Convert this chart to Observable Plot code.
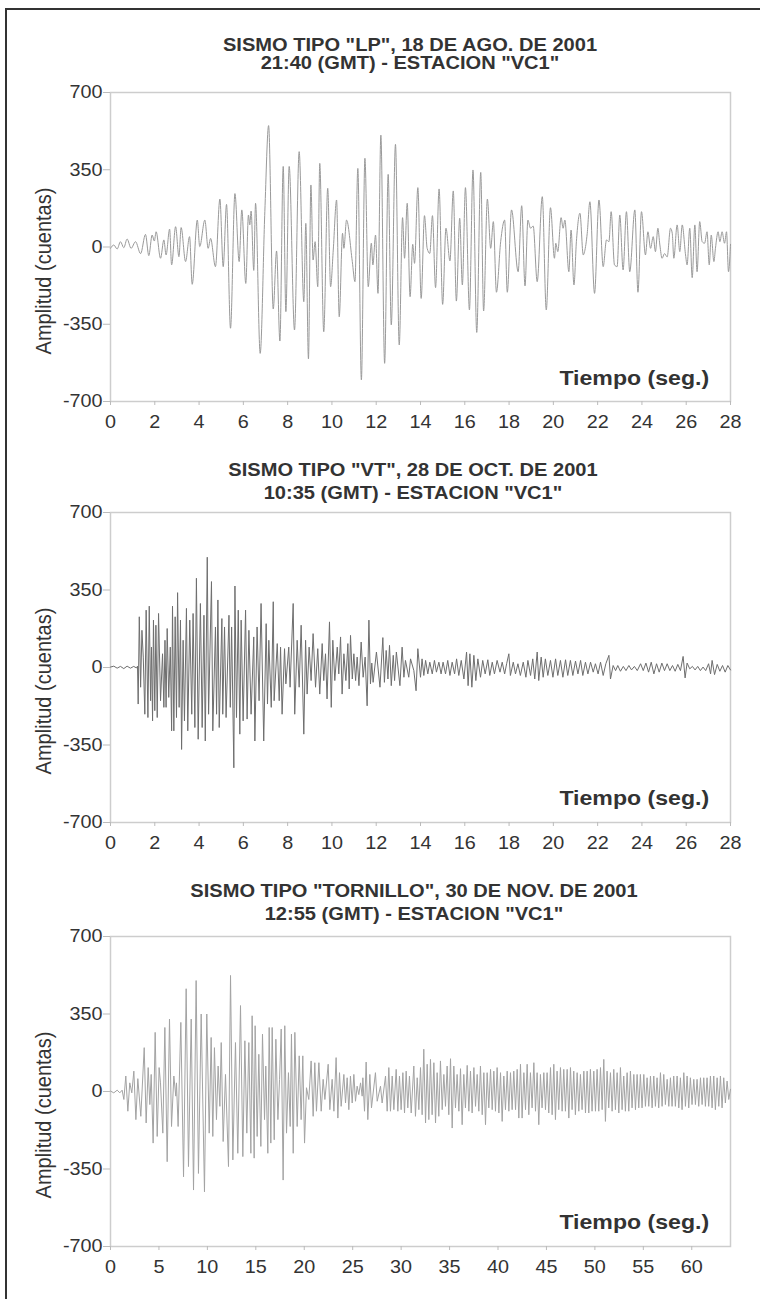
<!DOCTYPE html>
<html><head><meta charset="utf-8">
<script src="https://cdn.jsdelivr.net/npm/d3@7"></script>
<script src="https://cdn.jsdelivr.net/npm/@observablehq/plot@0.6"></script>
<style>
html,body{margin:0;padding:0;background:#fff;}
#page{position:relative;width:760px;height:1299px;overflow:hidden;font-family:"Liberation Sans",Arial,Helvetica,sans-serif;color:#333;background:#fff;}
#border{position:absolute;left:5px;top:8px;right:-5px;bottom:-5px;border-left:2px solid #333;border-top:2px solid #333;}
.t{position:absolute;white-space:nowrap;font-weight:bold;font-size:18.5px;line-height:1;transform:translateX(-50%) scaleX(1.085);}
.yl{position:absolute;left:43px;white-space:nowrap;font-size:20px;line-height:1;transform:translate(-50%,-50%) rotate(-90deg) scaleY(1.12);}
.xl{position:absolute;right:51px;white-space:nowrap;font-weight:bold;font-size:21px;line-height:1;transform-origin:right center;transform:scaleX(1.1);}
.chart{position:absolute;left:0;}
</style>
</head><body>
<div id="page"><div id="border"></div></div>
<script>
// ---- data ----
const yTicks = [-700, -350, 0, 350, 700];
const xTicksShort = [0,2,4,6,8,10,12,14,16,18,20,22,24,26,28];
const xTicksLong = [0,5,10,15,20,25,30,35,40,45,50,55,60];
const titleLines1 = ['SISMO TIPO "LP", 18 DE AGO. DE 2001', '21:40 (GMT) - ESTACION "VC1"'];
const titleLines2 = ['SISMO TIPO "VT", 28 DE OCT. DE 2001', '10:35 (GMT) - ESTACION "VC1"'];
const titleLines3 = ['SISMO TIPO "TORNILLO", 30 DE NOV. DE 2001', '12:55 (GMT) - ESTACION "VC1"'];
const yLabel = "Amplitud (cuentas)";
const xLabel = "Tiempo (seg.)";

// [time (s), amplitude (cuentas)]
const lpTrace = [[0.00,-6],[0.15,9],[0.30,-9],[0.45,24],[0.60,-3],[0.75,36],[0.93,-6],[1.13,24],[1.36,-30],[1.58,57],[1.73,-39],[1.88,54],[1.98,27],[2.06,69],[2.26,-51],[2.41,32],[2.51,-36],[2.67,81],[2.76,-81],[2.94,92],[3.09,-44],[3.19,88],[3.39,-66],[3.57,47],[3.69,-169],[3.92,122],[4.03,2],[4.26,122],[4.41,-6],[4.52,39],[4.74,-89],[4.94,217],[5.09,-89],[5.24,193],[5.42,-368],[5.62,242],[5.81,-66],[5.93,168],[6.11,-165],[6.23,145],[6.29,100],[6.35,163],[6.47,-106],[6.55,198],[6.76,-482],[6.97,160],[7.14,550],[7.35,-281],[7.50,-18],[7.65,-426],[7.80,365],[7.92,-293],[8.07,365],[8.31,-376],[8.52,432],[8.73,-248],[8.82,107],[8.94,-507],[9.05,281],[9.15,-59],[9.24,24],[9.36,-180],[9.45,379],[9.63,-384],[9.81,266],[9.94,-180],[10.06,-14],[10.21,213],[10.33,-316],[10.48,62],[10.54,-6],[10.66,122],[10.92,-66],[11.04,-157],[11.17,356],[11.33,-602],[11.49,402],[11.64,-180],[11.78,17],[11.85,-81],[11.97,54],[12.08,-210],[12.21,507],[12.38,-527],[12.54,329],[12.68,-353],[12.87,465],[13.04,-444],[13.19,133],[13.28,-51],[13.40,198],[13.53,-225],[13.65,12],[13.73,-74],[13.88,269],[14.03,-233],[14.18,142],[14.30,-6],[14.42,-29],[14.54,142],[14.68,-184],[14.84,263],[15.00,-260],[15.15,85],[15.33,-63],[15.48,254],[15.62,-245],[15.77,130],[15.89,-172],[16.03,269],[16.21,-285],[16.37,349],[16.54,-387],[16.72,338],[16.85,-290],[17.02,217],[17.17,-6],[17.29,115],[17.43,-205],[17.62,24],[17.80,122],[17.92,-205],[18.11,168],[18.41,-112],[18.57,187],[18.72,-176],[18.85,122],[18.97,85],[19.09,95],[19.27,-157],[19.50,228],[19.68,-285],[19.87,178],[20.05,-51],[20.11,17],[20.20,-21],[20.35,133],[20.44,85],[20.52,122],[20.70,-112],[20.80,77],[20.93,-172],[21.04,24],[21.20,153],[21.35,-36],[21.41,-21],[21.53,62],[21.65,205],[21.86,-210],[22.06,213],[22.25,-89],[22.40,32],[22.51,24],[22.61,160],[22.76,-81],[22.88,-89],[23.00,145],[23.15,-104],[23.30,160],[23.45,-112],[23.68,168],[23.82,-205],[23.98,160],[24.16,-36],[24.27,69],[24.39,-6],[24.51,47],[24.61,-21],[24.72,85],[24.81,9],[24.91,-51],[25.02,-30],[25.14,-45],[25.29,85],[25.37,62],[25.44,-51],[25.59,100],[25.71,-21],[25.82,100],[25.97,-36],[26.04,-81],[26.16,85],[26.27,-139],[26.39,100],[26.49,-112],[26.61,115],[26.72,24],[26.83,17],[26.94,69],[27.04,-81],[27.13,54],[27.25,-66],[27.32,-6],[27.44,69],[27.52,24],[27.62,69],[27.73,17],[27.82,69],[27.91,-112],[28.00,12]];

const vtTrace = [[0.00,2],[0.15,6],[0.30,-3],[0.45,5],[0.60,-5],[0.75,6],[0.90,-3],[1.05,5],[1.17,-2],[1.22,6],[1.25,-165],[1.30,229],[1.36,-89],[1.42,168],[1.48,47],[1.55,-211],[1.61,259],[1.69,-226],[1.75,277],[1.81,-150],[1.85,92],[1.90,-241],[1.94,214],[2.00,-195],[2.05,191],[2.11,-226],[2.17,244],[2.26,-150],[2.35,62],[2.41,-180],[2.46,123],[2.51,-180],[2.56,176],[2.63,-135],[2.70,92],[2.76,-286],[2.80,277],[2.86,-286],[2.92,229],[2.98,-226],[3.03,338],[3.10,-180],[3.16,214],[3.21,-370],[3.28,123],[3.34,-241],[3.43,267],[3.49,-286],[3.58,214],[3.67,-211],[3.73,244],[3.81,-271],[3.88,403],[3.96,-324],[4.06,289],[4.14,-271],[4.22,236],[4.28,-332],[4.37,498],[4.43,-211],[4.56,388],[4.62,-286],[4.74,183],[4.79,-211],[4.85,305],[4.91,-271],[5.03,221],[5.07,-211],[5.15,183],[5.22,-226],[5.35,236],[5.41,-180],[5.47,183],[5.57,-453],[5.62,368],[5.69,-226],[5.77,259],[5.84,-301],[5.90,214],[5.99,-241],[6.10,259],[6.17,-233],[6.25,168],[6.35,-211],[6.47,138],[6.52,-332],[6.62,183],[6.71,-150],[6.80,289],[6.92,-332],[7.03,198],[7.09,-165],[7.15,123],[7.26,-180],[7.35,297],[7.39,-150],[7.53,108],[7.62,-150],[7.68,92],[7.75,-211],[7.86,85],[7.92,-74],[8.05,92],[8.11,-89],[8.25,289],[8.32,-211],[8.43,123],[8.52,-89],[8.61,191],[8.73,-301],[8.81,123],[8.88,-120],[8.97,92],[9.06,-59],[9.15,153],[9.26,-89],[9.36,85],[9.45,-120],[9.56,108],[9.63,-59],[9.71,62],[9.78,-142],[9.89,206],[9.97,-180],[10.04,123],[10.13,-59],[10.24,92],[10.31,-29],[10.39,138],[10.46,-120],[10.54,62],[10.63,-59],[10.72,108],[10.78,-97],[10.84,145],[10.92,-52],[10.99,62],[11.07,-59],[11.14,47],[11.22,-82],[11.32,115],[11.41,-44],[11.50,47],[11.59,-173],[11.67,214],[11.74,-74],[11.80,20],[11.86,-67],[12.01,70],[12.17,-89],[12.30,135],[12.37,-67],[12.45,77],[12.53,-52],[12.60,100],[12.68,-82],[12.77,55],[12.83,-59],[12.91,70],[13.07,-82],[13.17,92],[13.25,-44],[13.32,32],[13.47,-44],[13.55,39],[13.70,-14],[13.80,-105],[13.88,85],[14.00,-44],[14.07,39],[14.15,-36],[14.23,32],[14.33,-29],[14.42,24],[14.53,-29],[14.63,32],[14.72,-21],[14.83,24],[14.93,-29],[15.02,24],[15.13,-29],[15.23,32],[15.33,-36],[15.43,24],[15.54,-29],[15.63,39],[15.73,-36],[15.84,32],[15.96,-52],[16.08,70],[16.15,-82],[16.23,62],[16.32,-89],[16.41,55],[16.50,-59],[16.59,39],[16.71,-44],[16.81,32],[16.92,-29],[17.04,35],[17.13,-36],[17.24,24],[17.34,-29],[17.46,32],[17.59,-21],[17.69,24],[17.80,-29],[17.89,17],[17.99,62],[18.06,-36],[18.19,24],[18.29,-29],[18.40,17],[18.51,-36],[18.64,24],[18.76,-44],[18.85,32],[18.97,-36],[19.07,39],[19.16,-52],[19.27,70],[19.34,-59],[19.45,47],[19.54,-44],[19.64,39],[19.75,-36],[19.87,32],[19.98,-44],[20.10,39],[20.20,-36],[20.32,32],[20.43,-44],[20.55,35],[20.65,-36],[20.77,32],[20.88,-36],[21.00,29],[21.11,-29],[21.23,32],[21.33,-36],[21.45,24],[21.56,-29],[21.68,24],[21.80,-21],[21.90,17],[22.02,-29],[22.13,24],[22.25,-36],[22.37,17],[22.51,55],[22.58,-52],[22.70,9],[22.81,-14],[22.91,9],[23.03,-17],[23.16,5],[23.28,-14],[23.41,9],[23.53,-11],[23.66,5],[23.79,-14],[23.94,17],[24.06,-14],[24.18,20],[24.30,-21],[24.42,24],[24.54,-29],[24.66,17],[24.78,-21],[24.90,20],[25.02,-14],[25.14,17],[25.26,-14],[25.38,9],[25.50,-17],[25.62,14],[25.74,-14],[25.86,50],[25.95,-47],[26.04,20],[26.16,-6],[26.28,5],[26.40,-11],[26.52,5],[26.64,-14],[26.76,2],[26.88,-14],[27.01,17],[27.10,-29],[27.17,32],[27.28,-32],[27.40,14],[27.52,-17],[27.64,9],[27.76,-21],[27.88,9],[28.00,-11]];

const tornilloTrace = [[0.00,2],[0.34,-6],[0.69,6],[0.96,-6],[1.20,6],[1.38,-36],[1.58,70],[1.79,-89],[1.99,39],[2.20,-6],[2.41,92],[2.62,-127],[2.82,58],[3.13,-112],[3.48,198],[3.68,-142],[3.89,108],[4.06,-59],[4.20,77],[4.40,-233],[4.61,267],[4.82,-203],[5.02,108],[5.16,39],[5.40,-188],[5.61,289],[5.85,-317],[6.09,327],[6.30,-158],[6.54,70],[6.74,-21],[6.81,39],[6.98,-158],[7.26,312],[7.54,-385],[7.81,464],[8.05,-339],[8.33,327],[8.57,-445],[8.84,501],[9.08,-370],[9.36,350],[9.70,-453],[9.94,350],[10.19,-188],[10.39,244],[10.56,-203],[10.73,198],[10.94,-127],[11.11,115],[11.29,-67],[11.43,221],[11.63,-226],[11.87,77],[12.18,-339],[12.39,524],[12.63,-309],[12.90,221],[13.14,-279],[13.42,388],[13.66,-294],[13.87,229],[14.07,-188],[14.28,221],[14.49,-279],[14.62,342],[14.83,-301],[14.93,297],[15.14,-203],[15.31,168],[15.52,-248],[15.69,259],[15.90,-127],[16.03,115],[16.24,-279],[16.38,289],[16.55,-233],[16.69,289],[16.90,-218],[17.07,236],[17.28,-127],[17.45,55],[17.62,282],[17.82,-400],[17.99,297],[18.17,-188],[18.37,85],[18.55,-158],[18.68,259],[18.86,-279],[19.03,267],[19.27,-158],[19.48,161],[19.68,-127],[19.85,161],[20.03,-233],[20.23,17],[20.47,-36],[20.71,138],[20.92,-112],[21.09,130],[21.26,-89],[21.51,130],[21.75,-89],[21.95,55],[22.13,-36],
[22.47,123],[22.64,-82],[22.88,55],[23.06,-89],[23.29,153],[23.47,-120],[23.64,85],[23.81,-67],[24.09,77],[24.26,-52],[24.43,62],[24.60,-82],[24.77,70],[24.95,-52],[25.12,77],[25.29,-44],[25.46,24],[25.63,-14],[25.81,39],[25.98,-21],[26.05,62],[26.22,-89],[26.39,133],[26.56,-127],[26.77,77],[26.94,-74],[27.35,85],[27.53,-44],[27.87,24],[28.04,-52],[28.39,70],[28.56,-89],[28.73,108],[28.90,-89],[29.08,70],[29.25,-82],[29.49,100],[29.66,-89],[29.83,70],[30.00,-82],[30.18,85],[30.35,-97],[30.52,92],[30.69,-74],[30.86,70],[31.04,-97],[31.31,115],[31.48,-112],[31.66,62],[31.83,-82],[32.00,108],[32.17,-105],[32.34,191],[32.52,-142],[32.69,123],[32.86,-127],[33.03,145],[33.20,-105],[33.38,130],[33.55,-142],[33.72,85],[33.89,-112],[34.06,138],[34.24,-82],[34.41,77],[34.58,-67],[34.75,115],[34.92,-105],[35.10,148],[35.27,-165],[35.44,115],[35.61,-74],[35.78,77],[35.96,-89],[36.13,103],[36.30,-150],[36.47,77],[36.64,-74],[36.82,118],[36.99,-89],[37.16,92],[37.33,-97],[37.51,108],[37.68,-67],[37.85,77],[38.02,-89],[38.19,115],[38.37,-105],[38.54,85],[38.71,-150],[38.88,85],[39.05,-74],[39.23,100],[39.40,-82],[39.57,92],[39.74,-89],[39.91,108],[40.09,-97],[40.26,85],[40.43,-135],[40.60,70],[40.77,-82],[40.95,92],[41.12,-89],[41.29,85],[41.46,-82],[41.63,92],[41.81,-82],[41.98,100],[42.15,-120],[42.32,123],[42.49,-120],[42.67,85],[42.84,-82],[43.01,123],[43.18,-105],
[43.35,85],[43.52,-74],[43.70,130],[43.87,-89],[44.04,85],[44.21,-150],[44.38,77],[44.55,-74],[44.73,85],[44.90,-82],[45.07,85],[45.24,-97],[45.42,108],[45.59,-105],[45.76,123],[45.93,-127],[46.10,92],[46.27,-82],[46.45,108],[46.62,-89],[46.79,100],[46.96,-89],[47.14,100],[47.31,-120],[47.48,108],[47.65,-82],[47.82,92],[47.99,-105],[48.17,85],[48.34,-89],[48.51,77],[48.68,-82],[48.86,92],[49.03,-97],[49.20,92],[49.37,-97],[49.54,100],[49.71,-89],[49.89,92],[50.06,-89],[50.23,100],[50.40,-89],[50.58,108],[50.75,-82],[50.92,145],[51.09,-135],[51.26,92],[51.43,-74],[51.61,85],[51.78,-89],[51.95,100],[52.12,-82],[52.30,85],[52.47,-97],[52.64,108],[52.81,-82],[52.98,70],[53.15,-89],[53.33,85],[53.50,-89],[53.67,92],[53.84,-74],[54.02,77],[54.19,-82],[54.36,77],[54.53,-74],[54.70,77],[54.87,-74],[55.05,77],[55.22,-67],[55.39,62],[55.56,-67],[55.74,70],[55.91,-74],[56.08,70],[56.25,-67],[56.42,62],[56.59,-74],[56.77,85],[56.94,-67],[57.11,77],[57.28,-59],[57.46,55],[57.63,-67],[57.80,62],[57.97,-67],[58.14,70],[58.31,-67],[58.49,70],[58.66,-74],[58.83,62],[59.00,-82],[59.18,85],[59.35,-67],[59.52,70],[59.69,-74],[59.86,62],[60.03,-59],[60.21,55],[60.38,-59],[60.55,55],[60.72,-67],[60.90,62],[61.07,-59],[61.24,62],[61.41,-67],[61.58,62],[61.75,-67],[61.93,70],[62.10,-74],[62.27,70],[62.44,-82],[62.62,62],[62.79,-67],[62.96,70],[63.13,-74],[63.30,62],[63.47,-52],[63.65,47],[63.82,-36],[64.00,10]];

// ---- layout ----
const FONT = '"Liberation Sans", Arial, Helvetica, sans-serif';
const page = document.getElementById("page");

function stretchText(svg, k) {
  svg.querySelectorAll("text").forEach(el => {
    const x = parseFloat(el.getAttribute("x")) || 0;
    const tr = el.getAttribute("transform") || "";
    el.setAttribute("transform", `${tr} translate(${x},0) scale(${k},1) translate(${-x},0)`);
  });
}

function seismo(trace, xMax, xTicks, stroke, innerH, curve) {
  const data = trace.map(([t, a]) => ({t, a}));
  const svg = Plot.plot({
    width: 760,
    height: 10 + innerH + 32,
    marginLeft: 110, marginRight: 30, marginTop: 10, marginBottom: 32,
    style: {fontFamily: FONT, fontSize: "18px", color: "#333", background: "transparent", overflow: "visible"},
    x: {domain: [0, xMax]},
    y: {domain: [-700, 700]},
    marks: [
      Plot.frame({stroke: "#cdcdcd", strokeWidth: 1.5}),
      Plot.axisY({ticks: yTicks, tickFormat: d => String(d), tickSize: 7, tickPadding: 1, stroke: "#bbb", fill: "#333", label: null, fontSize: 18}),
      Plot.axisX({ticks: xTicks, tickFormat: d => String(d), tickSize: 4, tickPadding: 10, stroke: "#bbb", fill: "#333", label: null, fontSize: 18}),
      Plot.line(data, {x: "t", y: "a", stroke, strokeWidth: 1, curve})
    ]
  });
  stretchText(svg, 1.1);
  return svg;
}

function addDiv(cls, text, style) {
  const d = document.createElement("div");
  d.className = cls;
  d.textContent = text;
  Object.assign(d.style, style);
  page.appendChild(d);
  return d;
}

const panels = [
  {trace: lpTrace, xMax: 28, xTicks: xTicksShort, stroke: "#9a9a9a", curve: "monotone-x", top: 92, innerH: 309, titles: titleLines1, titleTops: [35.5, 54], titleX: 410},
  {trace: vtTrace, xMax: 28, xTicks: xTicksShort, stroke: "#6e6e6e", curve: "linear", top: 512, innerH: 310, titles: titleLines2, titleTops: [461, 484], titleX: 413},
  {trace: tornilloTrace, xMax: 64, xTicks: xTicksLong, stroke: "#a3a3a3", curve: "linear", top: 936, innerH: 310, titles: titleLines3, titleTops: [882, 905], titleX: 414}
];

panels.forEach(p => {
  const holder = document.createElement("div");
  holder.className = "chart";
  holder.style.top = (p.top - 10) + "px";
  holder.appendChild(seismo(p.trace, p.xMax, p.xTicks, p.stroke, p.innerH, p.curve));
  page.appendChild(holder);
  addDiv("t", p.titles[0], {top: p.titleTops[0] + "px", left: p.titleX + "px"});
  addDiv("t", p.titles[1], {top: p.titleTops[1] + "px", left: p.titleX + "px"});
  addDiv("yl", yLabel, {top: (p.top + 179) + "px"});
  addDiv("xl", xLabel, {top: (p.top + 274.5) + "px"});
});
</script>
</body></html>
